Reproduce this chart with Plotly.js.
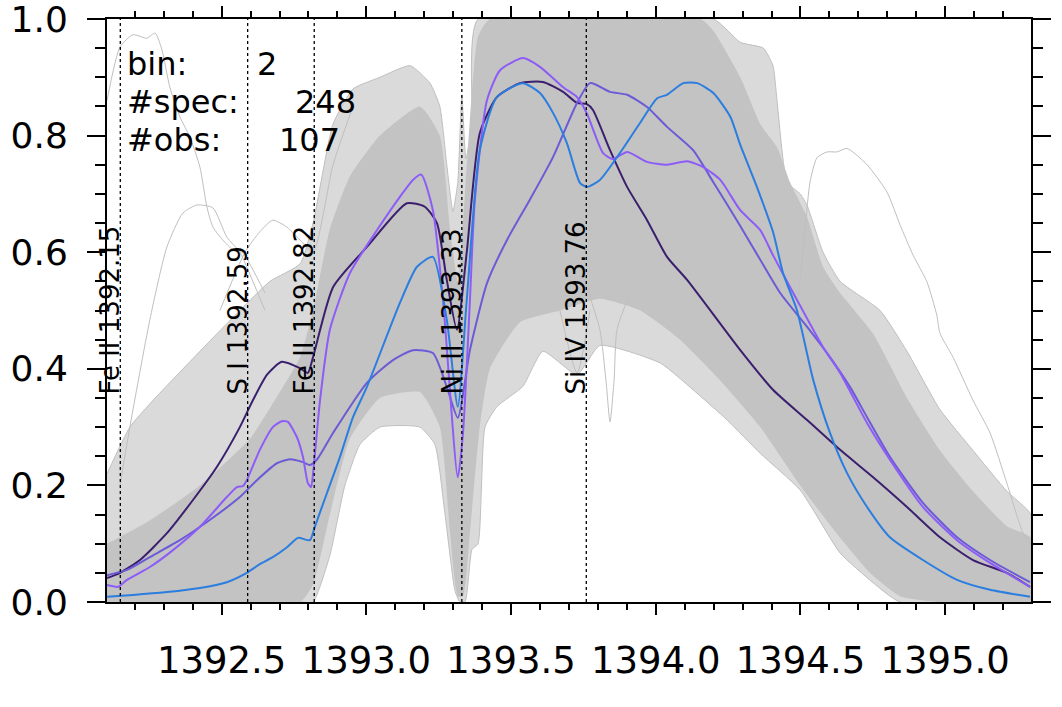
<!DOCTYPE html>
<html>
<head>
<meta charset="utf-8">
<script src="https://cdn.plot.ly/plotly-3.0.1.min.js"></script>
<style>html,body{margin:0;padding:0;background:#fff;}#plot{width:1062px;height:707px;}</style>
</head>
<body>
<div id="plot"></div>
<script>
// ---- spectral line markers ----
const lineWl = [1392.15, 1392.59, 1392.82, 1393.33, 1393.76];
const lineNames = ["Fe II 1392.15", "S I 1392.59", "Fe II 1392.82", "Ni II 1393.33", "Si IV 1393.76"];

// ---- info text ----
const infoKeys = ["bin:", "#spec:", "#obs:"];
const infoVals = ["2", "248", "107"];

// ---- axis ticks ----
const xTickVals = [1392.5, 1393.0, 1393.5, 1394.0, 1394.5, 1395.0];
const yTickVals = [0.0, 0.2, 0.4, 0.6, 0.8, 1.0];

// ---- gray spectra cloud (outer envelope of all 248 spectra) ----
const outerUpWl = [1392.104, 1392.183, 1392.252, 1392.425, 1392.563, 1392.667, 1392.771, 1392.816, 1392.885, 1392.954,
  1393.047, 1393.151, 1393.220, 1393.254, 1393.278, 1393.299, 1393.316, 1393.330, 1393.344, 1393.365,
  1393.386, 1394.199, 1394.292, 1394.372, 1394.405, 1394.419, 1394.454, 1394.499, 1394.523, 1394.578,
  1394.637, 1394.775, 1394.868, 1394.982, 1395.096, 1395.213, 1395.296];
const outerUpFlux = [0.22, 0.30, 0.34, 0.43, 0.50, 0.55, 0.58, 0.65, 0.82, 0.88,
  0.90, 0.92, 0.89, 0.85, 0.75, 0.67, 0.72, 0.87, 0.76, 0.82,
  1.0, 1.0, 0.96, 0.95, 0.92, 0.86, 0.72, 0.70, 0.68, 0.60,
  0.55, 0.50, 0.43, 0.33, 0.26, 0.19, 0.15];
const outerLowWl = [1392.104, 1392.771, 1392.816, 1392.874, 1392.926, 1392.978, 1393.047, 1393.185, 1393.237, 1393.272,
  1393.306, 1393.323, 1393.341, 1393.365, 1393.386, 1393.410, 1393.451, 1393.541, 1393.610, 1393.728,
  1393.807, 1394.015, 1394.129, 1394.247, 1394.361, 1394.499, 1394.637, 1394.751, 1394.844, 1395.296];
const outerLowFlux = [0.0, 0.0, 0.0, 0.08, 0.20, 0.27, 0.30, 0.30, 0.27, 0.15,
  0.02, 0.0, 0.0, 0.09, 0.10, 0.30, 0.335, 0.37, 0.43, 0.39,
  0.44, 0.41, 0.364, 0.312, 0.255, 0.192, 0.084, 0.033, 0.0, 0.0];

// ---- dense core of the spectra cloud ----
const innerUpWl = [1392.104, 1392.252, 1392.425, 1392.598, 1392.701, 1392.771, 1392.816, 1392.874, 1392.943, 1393.047,
  1393.185, 1393.254, 1393.289, 1393.316, 1393.341, 1393.386, 1393.427, 1394.154, 1394.199, 1394.292,
  1394.361, 1394.419, 1394.464, 1394.523, 1394.578, 1394.637, 1394.751, 1394.868, 1394.982, 1395.096,
  1395.213, 1395.296];
const innerUpFlux = [0.10, 0.14, 0.20, 0.28, 0.36, 0.42, 0.50, 0.64, 0.73, 0.80,
  0.85, 0.80, 0.64, 0.55, 0.70, 0.97, 1.0, 1.0, 0.98, 0.90,
  0.82, 0.78, 0.72, 0.66, 0.575, 0.53, 0.46, 0.35, 0.26, 0.19,
  0.13, 0.11];
const innerLowWl = [1392.104, 1392.771, 1392.816, 1392.874, 1392.943, 1393.047, 1393.185, 1393.254, 1393.289, 1393.316,
  1393.334, 1393.358, 1393.392, 1393.427, 1393.531, 1393.669, 1393.807, 1393.946, 1394.084, 1394.223,
  1394.361, 1394.499, 1394.637, 1394.740, 1394.844, 1394.982, 1395.296];
const innerLowFlux = [0.0, 0.0, 0.03, 0.15, 0.28, 0.35, 0.36, 0.30, 0.12, 0.01,
  0.01, 0.12, 0.30, 0.40, 0.48, 0.50, 0.52, 0.50, 0.45, 0.38,
  0.30, 0.20, 0.11, 0.05, 0.01, 0.0, 0.0];

// ---- individual outlying gray spectra ----
const g1Wl = [1392.104, 1392.149, 1392.194, 1392.242, 1392.270, 1392.294, 1392.321, 1392.356, 1392.390, 1392.425, 1392.449, 1392.470, 1392.504, 1392.539, 1392.574, 1392.608, 1392.650];
const g1Flux = [0.86, 0.952, 0.973, 0.967, 0.976, 0.947, 0.883, 0.832, 0.798, 0.746, 0.678, 0.643, 0.621, 0.604, 0.599, 0.57, 0.53];
const g2Wl = [1392.149, 1392.183, 1392.252, 1392.311, 1392.366, 1392.415, 1392.470, 1392.518, 1392.563, 1392.608, 1392.650];
const g2Flux = [0.20, 0.30, 0.484, 0.609, 0.667, 0.681, 0.676, 0.626, 0.60, 0.55, 0.50];
const g3Wl = [1392.494, 1392.581, 1392.632, 1392.677, 1392.726, 1392.771, 1392.816, 1392.885, 1392.954];
const g3Flux = [0.50, 0.60, 0.635, 0.655, 0.643, 0.621, 0.60, 0.75, 0.85];
const g4Wl = [1394.488, 1394.516, 1394.533, 1394.557, 1394.592, 1394.626, 1394.661, 1394.730, 1394.799, 1394.844, 1394.889, 1394.937, 1394.971, 1394.982, 1395.027, 1395.096, 1395.155, 1395.213, 1395.269, 1395.293];
const g4Flux = [0.50, 0.64, 0.72, 0.762, 0.772, 0.772, 0.778, 0.75, 0.703, 0.647, 0.595, 0.549, 0.492, 0.461, 0.42, 0.346, 0.29, 0.204, 0.118, 0.10];
const g5Wl = [1393.748, 1393.807, 1393.828, 1393.842, 1393.856, 1393.866, 1393.911];
const g5Flux = [0.56, 0.467, 0.38, 0.309, 0.38, 0.467, 0.53];
const g6Wl = [1393.669, 1393.728, 1393.773];
const g6Flux = [0.50, 0.393, 0.50];

// ---- highlighted spectra ----
const darkWl = [1392.104, 1392.149, 1392.218, 1392.311, 1392.401, 1392.484, 1392.563, 1392.608, 1392.657, 1392.708,
  1392.771, 1392.798, 1392.816, 1392.885, 1393.002, 1393.140, 1393.202, 1393.244, 1393.278, 1393.313,
  1393.347, 1393.392, 1393.451, 1393.531, 1393.610, 1393.680, 1393.728, 1393.762, 1393.783, 1393.842,
  1393.901, 1393.970, 1394.039, 1394.109, 1394.292, 1394.405, 1394.523, 1394.637, 1394.751, 1394.868,
  1394.982, 1395.096, 1395.213, 1395.293];
const darkFlux = [0.041, 0.050, 0.072, 0.118, 0.175, 0.232, 0.300, 0.346, 0.390, 0.412,
  0.401, 0.393, 0.420, 0.540, 0.609, 0.684, 0.678, 0.650, 0.552, 0.467,
  0.600, 0.804, 0.866, 0.890, 0.892, 0.875, 0.856, 0.854, 0.844, 0.775,
  0.712, 0.655, 0.592, 0.552, 0.432, 0.364, 0.312, 0.261, 0.214, 0.163,
  0.111, 0.072, 0.050, 0.026];

const violetWl = [1392.104, 1392.142, 1392.173, 1392.252, 1392.332, 1392.425, 1392.518, 1392.553, 1392.574, 1392.587,
  1392.632, 1392.677, 1392.708, 1392.729, 1392.760, 1392.781, 1392.798, 1392.809, 1392.816, 1392.840,
  1392.874, 1392.943, 1393.037, 1393.116, 1393.161, 1393.190, 1393.230, 1393.265, 1393.316, 1393.334,
  1393.358, 1393.375, 1393.417, 1393.462, 1393.541, 1393.600, 1393.680, 1393.728, 1393.762, 1393.818,
  1393.852, 1393.901, 1393.970, 1394.039, 1394.109, 1394.164, 1394.223, 1394.292, 1394.361, 1394.405,
  1394.488, 1394.578, 1394.637, 1394.730, 1394.809, 1394.923, 1395.041, 1395.155, 1395.293];
const violetFlux = [0.029, 0.026, 0.038, 0.060, 0.089, 0.129, 0.180, 0.197, 0.199, 0.209,
  0.261, 0.300, 0.310, 0.309, 0.283, 0.249, 0.204, 0.197, 0.221, 0.346,
  0.467, 0.564, 0.638, 0.695, 0.724, 0.733, 0.672, 0.518, 0.214, 0.290,
  0.518, 0.690, 0.861, 0.912, 0.933, 0.918, 0.883, 0.866, 0.838, 0.770,
  0.760, 0.772, 0.755, 0.750, 0.756, 0.746, 0.724, 0.672, 0.638, 0.595,
  0.518, 0.437, 0.393, 0.307, 0.244, 0.163, 0.106, 0.067, 0.026];

const slateWl = [1392.104, 1392.173, 1392.252, 1392.356, 1392.460, 1392.563, 1392.622, 1392.691, 1392.736, 1392.781,
  1392.805, 1392.829, 1392.885, 1393.002, 1393.092, 1393.161, 1393.230, 1393.278, 1393.316, 1393.358,
  1393.417, 1393.486, 1393.565, 1393.645, 1393.728, 1393.773, 1393.842, 1393.901, 1393.970, 1394.039,
  1394.129, 1394.199, 1394.292, 1394.361, 1394.430, 1394.523, 1394.592, 1394.671, 1394.730, 1394.809,
  1394.923, 1395.041, 1395.155, 1395.293];
const slateFlux = [0.046, 0.055, 0.077, 0.106, 0.141, 0.180, 0.209, 0.238, 0.245, 0.240,
  0.235, 0.244, 0.290, 0.376, 0.415, 0.432, 0.427, 0.369, 0.316, 0.432,
  0.547, 0.621, 0.690, 0.763, 0.856, 0.890, 0.875, 0.870, 0.849, 0.815,
  0.775, 0.720, 0.645, 0.587, 0.530, 0.472, 0.427, 0.369, 0.317, 0.249,
  0.170, 0.111, 0.072, 0.034];

const blueWl = [1392.104, 1392.194, 1392.311, 1392.425, 1392.518, 1392.587, 1392.632, 1392.677, 1392.726, 1392.764,
  1392.805, 1392.822, 1392.864, 1392.909, 1392.954, 1393.002, 1393.116, 1393.175, 1393.230, 1393.278,
  1393.316, 1393.347, 1393.392, 1393.451, 1393.541, 1393.600, 1393.645, 1393.693, 1393.738, 1393.762,
  1393.807, 1393.876, 1393.946, 1394.005, 1394.039, 1394.095, 1394.143, 1394.199, 1394.258, 1394.292,
  1394.351, 1394.405, 1394.440, 1394.488, 1394.544, 1394.602, 1394.661, 1394.730, 1394.809, 1394.923,
  1395.041, 1395.155, 1395.293];
const blueFlux = [0.009, 0.012, 0.017, 0.024, 0.034, 0.050, 0.065, 0.077, 0.094, 0.110,
  0.106, 0.129, 0.187, 0.249, 0.317, 0.369, 0.513, 0.575, 0.592, 0.484,
  0.335, 0.518, 0.775, 0.866, 0.890, 0.873, 0.839, 0.787, 0.719, 0.712,
  0.724, 0.770, 0.822, 0.864, 0.870, 0.890, 0.890, 0.873, 0.832, 0.784,
  0.710, 0.635, 0.564, 0.500, 0.381, 0.290, 0.221, 0.163, 0.111, 0.072,
  0.038, 0.021, 0.009];

const FONT = "DejaVu Sans";
const GRAY = "#bfbfbf";

function polygon(upX, upY, lowX, lowY) {
  return {x: upX.concat(lowX.slice().reverse()), y: upY.concat(lowY.slice().reverse())};
}
const outerPoly = polygon(outerUpWl, outerUpFlux, outerLowWl, outerLowFlux);
const innerPoly = polygon(innerUpWl, innerUpFlux, innerLowWl, innerLowFlux);

const traces = [];
traces.push({x: outerPoly.x, y: outerPoly.y, type: "scatter", mode: "lines", fill: "toself",
  fillcolor: "#dadada", line: {color: GRAY, width: 1, shape: "spline", smoothing: 0.5}, hoverinfo: "skip", showlegend: false});
traces.push({x: innerPoly.x, y: innerPoly.y, type: "scatter", mode: "lines", fill: "toself",
  fillcolor: "#c3c3c3", line: {color: "#c3c3c3", width: 0, shape: "spline", smoothing: 0.5}, hoverinfo: "skip", showlegend: false});
[[g1Wl, g1Flux], [g2Wl, g2Flux], [g3Wl, g3Flux], [g4Wl, g4Flux], [g5Wl, g5Flux], [g6Wl, g6Flux]].forEach(function (g) {
  traces.push({x: g[0], y: g[1], type: "scatter", mode: "lines", line: {color: GRAY, width: 1, shape: "spline", smoothing: 0.6},
    hoverinfo: "skip", showlegend: false});
});
const hl = [
  [darkWl, darkFlux, "#3b1f6e"],
  [slateWl, slateFlux, "#6b5bd6"],
  [violetWl, violetFlux, "#8d5cf8"],
  [blueWl, blueFlux, "#2b7de0"]
];
hl.forEach(function (h) {
  traces.push({x: h[0], y: h[1], type: "scatter", mode: "lines",
    line: {color: h[2], width: 2, shape: "spline", smoothing: 0.6}, showlegend: false});
});

const shapes = lineWl.map(function (w) {
  return {type: "line", xref: "x", yref: "y", x0: w, x1: w, y0: 0, y1: 1,
    line: {color: "black", width: 1.3, dash: "dot"}, layer: "above"};
});

const annotations = [];
lineWl.forEach(function (w, i) {
  annotations.push({x: w, y: 0.352, xref: "x", yref: "y", text: lineNames[i], showarrow: false,
    textangle: -90, xanchor: "right", yanchor: "bottom", xshift: 7,
    font: {family: FONT, size: 26, color: "black"}});
});
const infoKeyY = [0.9220, 0.8568, 0.7916];
const infoValX = [0.160, 0.2013, 0.184];
infoKeys.forEach(function (k, i) {
  annotations.push({x: 0.019, y: infoKeyY[i], xref: "paper", yref: "paper", text: k, showarrow: false,
    xanchor: "left", yanchor: "middle",
    font: {family: FONT, size: 32, color: "black"}});
  annotations.push({x: infoValX[i], y: infoKeyY[i], xref: "paper", yref: "paper", text: infoVals[i], showarrow: false,
    xanchor: "left", yanchor: "middle",
    font: {family: FONT, size: 32, color: "black"}});
});

const layout = {
  width: 1062, height: 707,
  margin: {l: 107, r: 31, t: 19, b: 105},
  paper_bgcolor: "white", plot_bgcolor: "white",
  showlegend: false,
  xaxis: {
    range: [1392.104, 1395.2965], showgrid: false, zeroline: false,
    showline: true, linecolor: "black", linewidth: 2, mirror: "ticks",
    ticks: "outside", ticklen: 11, tickwidth: 2, tickcolor: "black",
    tickmode: "array", tickvals: xTickVals, ticktext: xTickVals.map(function (v) { return v.toFixed(1); }),
    ticklabelstandoff: 14,
    tickfont: {family: FONT, size: 37, color: "black"},
    minor: {dtick: 0.1, tick0: 1392.5, ticks: "outside", ticklen: 6, tickwidth: 2, tickcolor: "black", showgrid: false}
  },
  yaxis: {
    range: [0, 1], showgrid: false, zeroline: false,
    showline: true, linecolor: "black", linewidth: 2, mirror: "ticks",
    ticks: "outside", ticklen: 18, tickwidth: 2, tickcolor: "black",
    tickmode: "array", tickvals: yTickVals, ticktext: yTickVals.map(function (v) { return v.toFixed(1); }),
    ticklabelstandoff: 12, ticklabeloverflow: "allow",
    tickfont: {family: FONT, size: 36, color: "black"},
    minor: {dtick: 0.05, tick0: 0, ticks: "outside", ticklen: 10, tickwidth: 2, tickcolor: "black", showgrid: false}
  },
  shapes: shapes,
  annotations: annotations
};

Plotly.newPlot("plot", traces, layout, {staticPlot: true, displayModeBar: false});
</script>
</body>
</html>
